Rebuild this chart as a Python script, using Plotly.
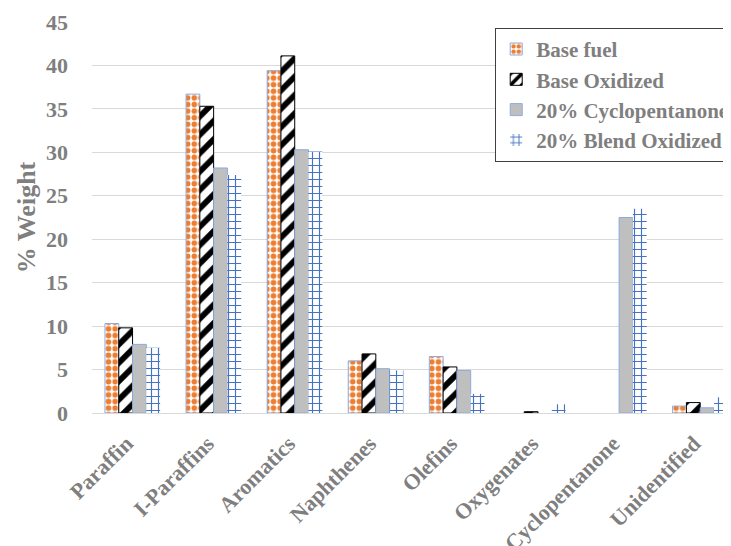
import plotly.graph_objects as go

categories = ["Paraffin", "I-Paraffins", "Aromatics", "Naphthenes", "Olefins",
              "Oxygenates", "Cyclopentanone", "Unidentified"]
base_fuel = [10.3, 36.7, 39.4, 6.0, 6.5, None, None, 0.8]
base_oxidized = [9.8, 35.3, 41.1, 6.8, 5.3, 0.15, None, 1.2]
cyclopentanone_20 = [7.9, 28.2, 30.3, 5.1, 4.9, None, 22.5, 0.6]
blend_oxidized_20 = [7.5, 27.4, 30.1, 4.9, 2.2, 1.0, 23.5, 1.8]
y_ticks = [0, 5, 10, 15, 20, 25, 30, 35, 40, 45]

GRAY = "#7f7f7f"
FONT = "Liberation Serif"

fig = go.Figure()
fig.add_trace(go.Bar(
    name="Base fuel", x=categories, y=base_fuel,
    marker=dict(color="white",
                line=dict(color="#8eaadb", width=1),
                pattern=dict(shape=".", fgcolor="#ed7d31", bgcolor="white",
                             size=6.6, solidity=0.55, fillmode="replace",
                             fgopacity=1)),
))
fig.add_trace(go.Bar(
    name="Base Oxidized", x=categories, y=base_oxidized,
    marker=dict(color="white",
                line=dict(color="black", width=1),
                pattern=dict(shape="/", fgcolor="black", bgcolor="white",
                             size=13, solidity=0.45, fillmode="replace",
                             fgopacity=1)),
))
fig.add_trace(go.Bar(
    name="20% Cyclopentanone", x=categories, y=cyclopentanone_20,
    marker=dict(color="#bfbfbf", line=dict(color="#8eaadb", width=1)),
))
fig.add_trace(go.Bar(
    name="20% Blend Oxidized", x=categories, y=blend_oxidized_20,
    marker=dict(color="white",
                line=dict(color="rgba(0,0,0,0)", width=0),
                pattern=dict(shape="+", fgcolor="#4472c4", bgcolor="white",
                             size=7, solidity=0.3, fillmode="replace",
                             fgopacity=1)),
))

# page body has an 8px default margin, so the figure is 8px smaller
fig.update_layout(
    width=723, height=538,
    margin=dict(l=84, r=0, t=14, b=133, autoexpand=False),
    paper_bgcolor="white", plot_bgcolor="white",
    barmode="group", bargap=0.32, bargroupgap=0.0,
    font=dict(family=FONT, color=GRAY, size=19, weight="bold"),
    showlegend=True,
    legend=dict(x=0.631, y=0.985, xanchor="left", yanchor="top",
                bgcolor="white", bordercolor="#404040", borderwidth=1,
                font=dict(family=FONT, size=21, color=GRAY, weight="bold"),
                tracegroupgap=0, itemwidth=30),
)
fig.update_xaxes(
    range=[-0.5, 7.38], tickangle=-45, showgrid=False,
    showline=True, linecolor="#d9d9d9", linewidth=1,
    tickfont=dict(family=FONT, size=22, color=GRAY, weight="bold"),
    ticks="", ticklabelshift=-6, ticklabelstandoff=8,
)
fig.update_yaxes(
    range=[0, 45], tickvals=y_ticks, showgrid=True, gridcolor="#d9d9d9",
    gridwidth=1, zeroline=False, showline=False, ticks="",
    ticklabelstandoff=23,
    tickfont=dict(family=FONT, size=22, color=GRAY, weight="bold"),
    title=dict(text="% Weight", standoff=2,
               font=dict(family=FONT, size=26, color=GRAY, weight="bold")),
)

fig.write_html("out.html")
